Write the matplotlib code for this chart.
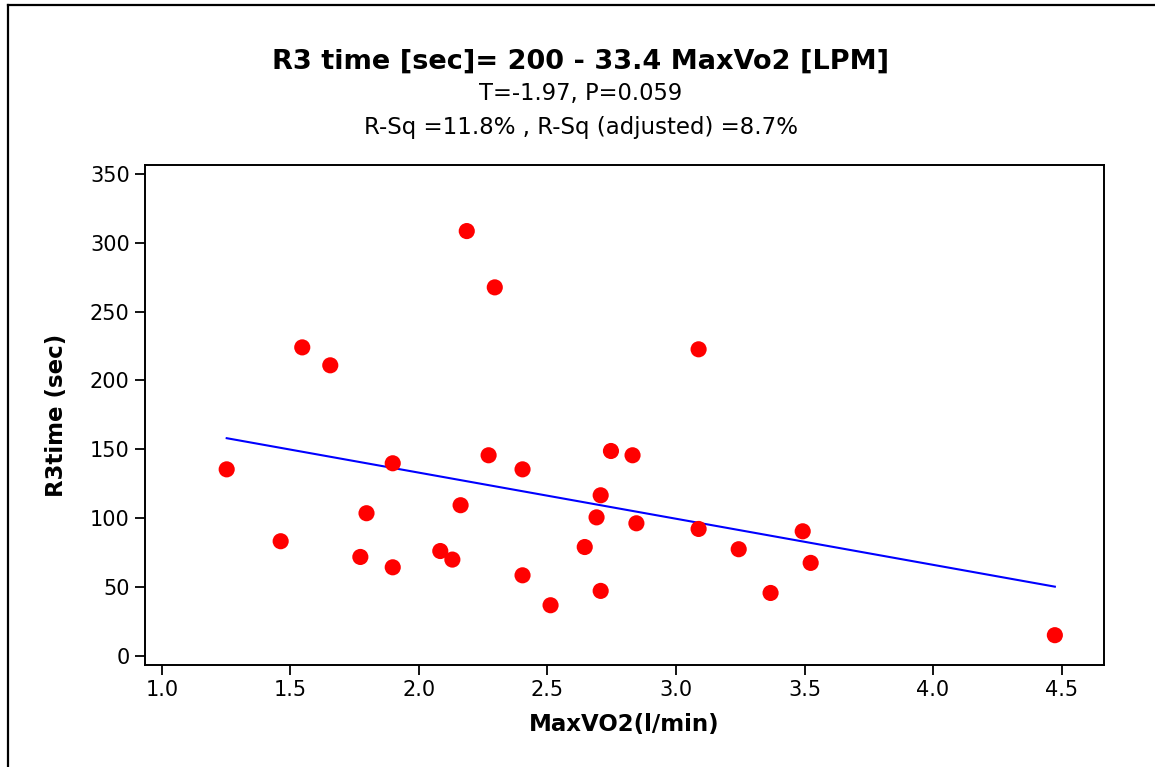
import numpy as np
import matplotlib
matplotlib.use('Agg')
import matplotlib.pyplot as plt
from matplotlib.lines import Line2D

# valori
max_vo2 = [1.252, 1.462, 1.546, 1.655, 1.772, 1.796, 1.898, 1.898, 2.083, 2.130,
           2.162, 2.186, 2.271, 2.295, 2.403, 2.403, 2.512, 2.645, 2.691, 2.707,
           2.707, 2.747, 2.831, 2.846, 3.088, 3.088, 3.244, 3.368, 3.493, 3.524,
           4.474]
r3_time = [135.6, 83.5, 224.0, 211.0, 72.1, 103.8, 140.0, 64.6, 76.4, 70.2,
           109.6, 308.3, 145.8, 267.5, 135.6, 58.8, 37.1, 79.3, 100.8, 116.8,
           47.5, 148.9, 145.8, 96.5, 222.6, 92.4, 77.7, 46.0, 90.7, 67.8,
           15.4]
intercept = 200
slope = -33.4

x_ticks = [1.0, 1.5, 2.0, 2.5, 3.0, 3.5, 4.0, 4.5]
y_ticks = [0, 50, 100, 150, 200, 250, 300, 350]

plt.rcParams['font.family'] = ['DejaVu Sans']

fig = plt.figure(figsize=(11.55, 7.67), dpi=100)
ax = fig.add_axes([0.1255, 0.1330, 0.8303, 0.6519])

# retta di regressione
xl = np.array([min(max_vo2), max(max_vo2)])
ax.plot(xl, intercept + slope * xl, color='#0000ff', lw=1.5, zorder=2)
ax.scatter(max_vo2, r3_time, s=135, color='#ff0000', edgecolors='none', zorder=3)

ax.set_xlim(0.934, 4.665)
ax.set_ylim(-6.2, 356.2)
ax.set_xticks(x_ticks)
ax.set_xticklabels([f'{v:.1f}' for v in x_ticks])
ax.set_yticks(y_ticks)
ax.tick_params(direction='out', length=7, width=1.3, labelsize=15, pad=4)
for s in ax.spines.values():
    s.set_linewidth(1.4)

ax.set_xlabel('MaxVO2(l/min)', fontsize=16.5, fontweight='bold', labelpad=9)
ax.set_ylabel('R3time (sec)', fontsize=16.5, fontweight='bold', labelpad=16)

fig.text(0.503, 0.919, 'R3 time [sec]= 200 - 33.4 MaxVo2 [LPM]', ha='center',
         va='center', fontsize=19.5, fontweight='bold')
fig.text(0.503, 0.878, 'T=-1.97, P=0.059', ha='center', va='center', fontsize=16.3)
fig.text(0.503, 0.834, 'R-Sq =11.8% , R-Sq (adjusted) =8.7%', ha='center',
         va='center', fontsize=16.5)

# cornice esterna
fig.add_artist(Line2D([8/1155, 8/1155], [0, 1 - 5/767], transform=fig.transFigure,
                      color='black', lw=1.6))
fig.add_artist(Line2D([8/1155, 1], [1 - 5/767, 1 - 5/767], transform=fig.transFigure,
                      color='black', lw=1.6))

fig.savefig('out.png', dpi=100)
